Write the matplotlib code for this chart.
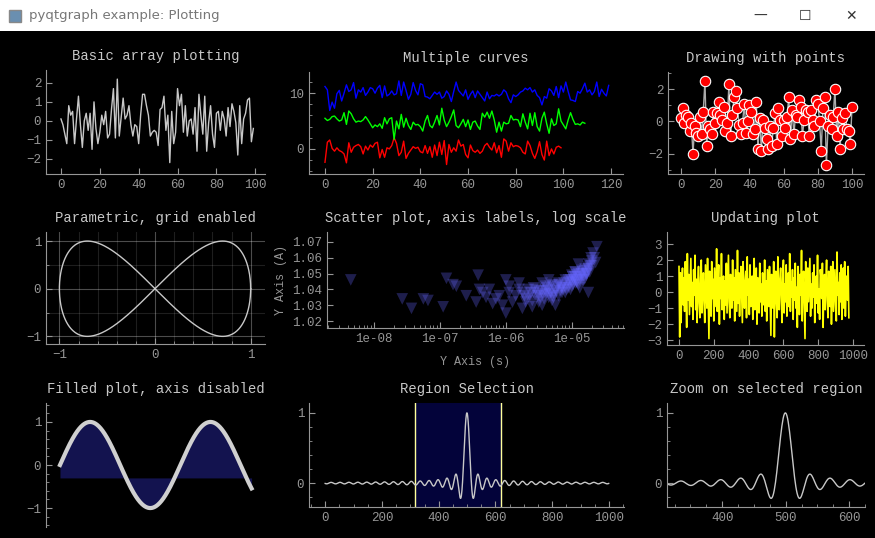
import numpy as np
import matplotlib
matplotlib.use("Agg")
import matplotlib.pyplot as plt
from matplotlib.patches import Rectangle
from matplotlib.ticker import AutoMinorLocator

W, H = 875, 538
FONT = "Liberation Mono"
AXC = "#969696"
TITLEC = "#c8c8c8"

# ---- data ----
basic_y = [0.1, -0.2, -0.7, -1.2, 0.8, 0.3, 0.5, -1.2, 0.1, 1.3, -0.2, -1.4, 0.0, 0.4, -0.5,
           0.4, -1.5, 1.0, -0.4, -1.2, -0.6, 0.3, -0.2, 0.5, -0.9, -0.7, 0.6, 1.7, -0.9, 2.2,
           -0.8, 0.2, 1.2, 0.1, 0.3, 0.8, -0.2, -0.8, -0.2, -0.3, -1.2, 0.3, 1.4, 1.4, 0.8,
           0.3, -0.8, -0.6, -0.5, -0.6, -1.3, 0.6, 0.7, 1.3, -0.5, 0.3, -2.2, 0.5, -1.2, -0.6,
           1.7, 0.8, 1.4, -0.6, 0.8, -0.8, 0.0, 0.1, -0.7, 0.7, -1.6, 1.4, 0.3, -0.7, 1.3,
           -1.6, -0.1, 0.8, -0.7, -1.4, 0.4, 0.5, -0.5, 0.5, 0.1, -0.8, 0.7, -0.3, 0.9, 0.5,
           -0.1, -1.8, 0.8, -1.2, 0.1, 0.4, 1.1, 1.2, -1.1, -0.4]

red_y = [-2.4, 1.2, 1.6, 0.1, -0.4, 0.2, -0.3, -0.5, -0.9, -2.5, 1.1, -0.6, 0.3, 0.6, 0.8,
         0.4, -0.9, 0.5, -0.2, 0.7, 0.3, 1.0, 1.2, -1.6, -0.1, -1.5, 0.2, 0.0, 0.6, 2.0,
         1.0, -1.2, -0.6, 1.4, -1.7, -0.8, -0.2, 0.4, 0.1, 0.3, -0.5, -0.7, 0.6, -0.8, 0.4,
         -1.5, 0.7, -1.2, 1.2, -1.0, 1.5, -2.8, 0.8, -0.6, 0.2, -0.4, 1.6, 0.5, 0.8, -1.0,
         -1.6, 0.7, -0.3, -0.6, -0.2, -0.8, -0.4, 0.6, 1.0, 0.3, -0.2, 1.1, -0.7, 0.6, -1.5,
         1.8, 1.4, -0.4, 1.1, 0.4, 0.6, 0.5, 0.2, -0.6, -0.9, 1.4, 0.6, -0.8, -1.7, -0.5,
         1.3, -1.0, -2.0, 1.4, -1.2, 0.0, -0.9, 0.3, 0.5, 0.2]

green_y = [5.5, 5.1, 5.3, 5.8, 5.9, 5.4, 5.0, 5.2, 6.5, 4.4, 6.8, 6.3, 5.4, 4.8, 5.0,
           4.9, 5.2, 5.8, 5.2, 4.5, 3.8, 4.3, 4.0, 4.5, 3.7, 5.6, 4.5, 5.4, 5.6, 1.7,
           5.0, 3.6, 6.2, 3.9, 5.5, 4.2, 3.5, 4.8, 4.3, 4.4, 4.0, 3.2, 5.0, 6.0, 4.2,
           3.8, 4.8, 6.0, 4.3, 7.3, 5.2, 4.0, 4.8, 5.8, 7.0, 4.2, 3.8, 4.5, 5.3, 4.0,
           5.2, 3.5, 4.8, 5.0, 4.1, 3.5, 6.4, 5.7, 6.6, 5.5, 6.8, 5.2, 3.0, 4.8, 3.2,
           4.8, 4.5, 4.6, 6.0, 5.2, 5.3, 5.2, 4.0, 6.3, 4.8, 3.6, 6.4, 4.2, 6.5, 4.0,
           3.2, 5.5, 6.6, 4.5, 2.8, 5.4, 4.2, 4.5, 7.2, 5.0, 4.3, 3.6, 5.2, 6.5, 5.3,
           4.4, 4.5, 4.3, 4.8, 4.6]

blue_y = [11.2, 10.6, 6.9, 8.4, 7.3, 9.9, 10.5, 8.6, 10.0, 11.5, 10.3, 10.6, 11.9, 9.1, 10.6,
          10.2, 11.0, 9.6, 10.2, 11.0, 10.8, 10.0, 10.9, 11.4, 9.2, 11.3, 9.5, 9.8, 10.4, 9.7,
          9.9, 12.2, 9.6, 12.0, 10.5, 8.9, 9.8, 11.9, 10.5, 9.7, 11.7, 11.5, 9.4, 9.3, 9.0,
          9.6, 10.2, 9.8, 10.2, 9.1, 9.4, 10.4, 9.8, 8.5, 10.3, 12.0, 10.5, 10.0, 9.5, 10.6,
          8.9, 9.8, 10.4, 9.2, 10.4, 9.8, 9.2, 8.6, 10.2, 9.0, 9.6, 9.5, 9.8, 9.5, 9.8,
          10.6, 10.2, 9.0, 8.3, 9.7, 9.4, 9.7, 10.2, 10.4, 10.9, 10.6, 11.0, 10.2, 10.6, 9.6,
          9.2, 7.9, 9.4, 9.1, 10.8, 10.4, 9.6, 11.2, 9.2, 11.3, 10.2, 12.0, 10.3, 8.8, 8.7,
          8.5, 10.3, 10.0, 10.8, 11.8, 10.2, 10.6, 9.7, 10.3, 12.0, 9.4, 10.7, 10.0, 9.5, 11.4]

points_y = [0.2, 0.8, -0.1, 0.4, 0.3, -0.6, -0.1, -2.0, -0.3, -0.7, -0.9, 0.3, -0.8, 0.6, 2.5,
            -1.5, -0.3, -0.5, -0.8, 0.6, -0.1, 0.5, 1.2, 0.4, 0.1, 0.9, -0.6, -0.1, 2.3, -0.9,
            0.4, 1.5, 1.9, 0.8, -0.2, -0.8, -0.1, 1.1, -0.7, -0.0, 1.0, 0.6, -0.8, -0.5, 1.2,
            -1.7, 0.2, -1.8, 0.1, -0.4, -1.1, -1.7, -0.3, -1.5, -0.4, 0.5, -1.4, 0.8, 0.1, -0.9,
            0.1, -0.4, 0.3, 1.5, -1.1, 0.7, -0.8, 0.4, 0.3, 1.3, 0.9, -0.9, 0.1, 0.7, 0.6,
            -0.9, 0.7, 0.1, -0.3, 1.3, 1.1, 0.0, -1.8, 0.8, 1.5, -2.7, -0.3, 0.4, -0.5, 0.3,
            2.0, -0.9, 0.6, -1.7, 0.2, -0.5, 0.5, -0.5, -0.6, -1.4, 0.9]

update_y = [1.6, -2.8, 1.2, -1.9, 0.5, 1.5, -0.8, 0.9, -1.2, 1.9, 0.2, -2.2, 2.4, -0.5, 1.1,
            -1.4, 0.3, 2.1, -0.9, 0.6, -1.7, 1.4, -0.2, 2.3, -1.1, 0.8, -1.9, 0.4, 1.6, -0.7,
            -1.6, 0.9, 2.0, -1.3, 0.1, 1.2, -0.6, -1.9, 1.7, 0.4, -1.0, 2.1, -0.3, -2.9, 1.3,
            0.6, -1.5, 1.9, -0.4, 0.8, -1.8, 1.5, 0.2, -0.9, 2.7, -1.2, 0.5, 1.7, -2.0, 0.9,
            -0.4, 2.4, -1.1, 0.3, 1.0, -1.7, 0.7, -0.8, 1.8, -1.3, 0.4, 2.3, -0.6, -1.6, 1.1,
            0.2, -1.0, 2.0, -0.5, 0.9, -1.8, 1.4, 0.1, -1.2, 2.6, -0.7, 1.2, -1.5, 0.5, 1.6,
            -0.3, -1.9, 1.9, 0.7, -1.0, 0.4, 1.3, -1.6, 2.2, -0.2, 0.8, -1.4, 1.7, -0.9, 0.3,
            1.0, -1.7, 0.6, 2.1, -1.1, -0.4, 1.5, -2.0, 0.9, 0.2, -1.3, 1.8, -0.6, 0.5, -1.5,
            1.2, 0.0, -0.8, 2.0, -1.2, 0.7, -1.8, 1.4, 0.3, -0.9, 1.6, -0.5, -2.7, 1.1, 0.4,
            -1.0, 1.9, -2.8, 0.6, 1.3, -0.7, -1.6, 2.2, 0.1, -1.1, 0.8, 1.5, -0.4, -1.9, 1.0,
            2.0, -1.3, 0.5, -0.6, 1.7, -1.5, 0.2, 1.2, -0.9, 2.4, -1.2, 0.6, -0.3, 1.4, -1.7,
            0.9, -0.5, 1.8, -1.0, 0.3, -2.2, 1.6, 0.7, -1.4, 1.1, -0.2, 2.6, -1.8, 0.4, 1.3,
            -0.8, -2.9, 1.9, 0.1, -1.2, 1.5, -0.6, 0.8, 2.1, -1.5, 0.5, -1.0, 1.2, -0.3, 1.7,
            -1.9, 0.6, 1.0, -0.7, 2.3, -1.3, 0.2, -1.7, 1.4, 0.9, -0.4, 1.8, -2.2, 0.3, 1.1,
            -1.1, 0.7, 2.0, -0.5, -1.6, 1.3, 0.4, -0.9, 1.6, -2.0, 0.8, 1.9, -1.2, 0.1, 1.4,
            -0.8, -1.8, 2.5, -0.2, 0.6, -1.4, 1.2, -0.6, 1.7, -1.7, 0.5, 1.5, -1.0, 1.9, -1.5,
            0.3, 1.0, -0.5, 1.6, -1.6]

scatter_logx = [-8.35, -7.57, -7.43, -7.25, -7.18, -6.95, -6.9, -6.8, -6.75, -6.45, -6.42, -6.35,
                -6.3, -6.25, -6.2, -6.1, -6.05, -6.0, -5.95, -5.9, -5.85, -5.8, -5.75, -5.7, -5.62,
                -5.58, -5.5, -5.45, -5.4, -5.35, -5.3, -5.25, -5.2, -5.15, -5.1, -5.05, -5.0,
                -4.95, -4.9, -4.85, -4.8, -4.75, -4.7, -4.66, -4.62, -6.15, -5.95, -5.7, -5.55,
                -5.4, -5.3, -5.2, -5.1, -5.0, -4.92, -4.85, -4.78, -4.7, -5.5, -5.65, -5.8,
                -5.25, -5.05, -4.9, -4.75, -6.0, -5.35, -5.15, -4.95, -4.82, -4.68, -4.64,
                -6.4, -6.6, -5.75, -5.45, -4.88, -4.72, -5.6, -5.35,
                -5.72, -5.66, -5.58, -5.52, -5.46, -5.42, -5.38, -5.32, -5.28, -5.22, -5.18,
                -5.12, -5.08, -5.02, -4.98, -4.96, -4.93, -4.9, -4.87, -4.84, -4.81, -4.78,
                -4.76, -4.73, -5.6, -5.5, -5.44, -5.36, -5.3, -5.24, -5.16, -5.1, -5.04,
                -5.0, -4.97, -4.94, -4.91, -4.88, -4.86, -4.83, -4.8, -4.77, -4.74, -4.71,
                -5.48, -5.4, -5.33, -5.27, -5.2, -5.14, -5.06, -5.02, -4.99, -4.95]
scatter_y = [1.046, 1.034, 1.028, 1.034, 1.033, 1.029, 1.047, 1.043, 1.042, 1.032, 1.049, 1.038,
             1.035, 1.040, 1.031, 1.036, 1.030, 1.025, 1.038, 1.032, 1.036, 1.040, 1.028, 1.034,
             1.038, 1.041, 1.036, 1.030, 1.042, 1.037, 1.033, 1.040, 1.044, 1.038, 1.046,
             1.041, 1.045, 1.048, 1.043, 1.050, 1.047, 1.053, 1.055, 1.060, 1.067, 1.034,
             1.042, 1.032, 1.040, 1.039, 1.043, 1.036, 1.041, 1.049, 1.044, 1.052, 1.050,
             1.058, 1.032, 1.035, 1.044, 1.030, 1.046, 1.056, 1.038, 1.046, 1.035, 1.042,
             1.051, 1.046, 1.063, 1.057, 1.040, 1.036, 1.038, 1.044, 1.041, 1.055, 1.029, 1.046,
             1.036, 1.040, 1.038, 1.036, 1.039, 1.034, 1.041, 1.038, 1.035, 1.042, 1.039,
             1.044, 1.040, 1.046, 1.043, 1.048, 1.045, 1.050, 1.047, 1.046, 1.052, 1.049,
             1.054, 1.051, 1.033, 1.039, 1.037, 1.040, 1.036, 1.039, 1.041, 1.038, 1.044,
             1.042, 1.046, 1.044, 1.049, 1.046, 1.050, 1.048, 1.053, 1.050, 1.056, 1.060,
             1.035, 1.037, 1.042, 1.037, 1.043, 1.040, 1.045, 1.040, 1.048, 1.051]

# smooth curves from the original example's definitions
param_t = np.linspace(0, 2 * np.pi, 1000)
fill_x = np.linspace(0, 10, 1000)
sinc_u = np.linspace(-100, 100, 1000)
sinc_idx = np.arange(1000)
region = (318, 620)


def make_axes(fig, left, top, right, bottom, xlim, ylim, xaxis=True):
    ax = fig.add_axes([left / W, 1 - bottom / H, (right - left) / W, (bottom - top) / H])
    ax.set_facecolor("black")
    ax.set_xlim(*xlim)
    ax.set_ylim(*ylim)
    for s in ("top", "right"):
        ax.spines[s].set_visible(False)
    for s in ("left", "bottom"):
        ax.spines[s].set_color(AXC)
    ax.tick_params(colors=AXC, labelcolor=AXC, direction="in", length=4, labelsize=9)
    ax.tick_params(which="minor", direction="in", length=2, colors=AXC)
    if not xaxis:
        ax.spines["bottom"].set_visible(False)
        ax.set_xticks([])
    return ax


def title(ax, text):
    ax.set_title(text, color=TITLEC, fontsize=10, fontfamily=FONT, pad=7)


def fix_fonts(ax):
    for lab in ax.get_xticklabels() + ax.get_yticklabels():
        lab.set_fontfamily(FONT)


fig = plt.figure(figsize=(W / 100, H / 100), dpi=100, facecolor="black")

# window title bar
fig.patches.append(Rectangle((0, 1 - 31 / H), 1, 31 / H, transform=fig.transFigure,
                             facecolor="white", edgecolor="none"))
fig.patches.append(Rectangle((9 / W, 1 - 22 / H), 12 / W, 12 / H, transform=fig.transFigure,
                             facecolor="#6a8fb0", edgecolor="#888888"))
fig.text(29 / W, 1 - 16 / H, "pyqtgraph example: Plotting", color="#777777", fontsize=9.5,
         fontfamily="DejaVu Sans", va="center")
for xp, ch in ((760, "\u2014"), (805, "\u2610"), (851, "\u2715")):
    fig.text(xp / W, 1 - 16 / H, ch, color="#333333", fontsize=10, ha="center", va="center",
             fontfamily="DejaVu Sans")

# row 1
ax = make_axes(fig, 46, 70, 265, 174, (-7.7, 105), (-2.8, 2.68))
ax.plot(np.arange(len(basic_y)), basic_y, color="#c8c8c8", lw=1)
ax.set_xticks([0, 20, 40, 60, 80, 100]); ax.set_yticks([-2, -1, 0, 1, 2])
fix_fonts(ax)
title(ax, "Basic array plotting")

ax = make_axes(fig, 309, 72, 623, 174, (-6.7, 125), (-4.5, 13.8))
ax.plot(np.arange(len(red_y)), red_y, color="#ff0000", lw=1)
ax.plot(np.arange(len(green_y)), green_y, color="#00ff00", lw=1)
ax.plot(np.arange(len(blue_y)), blue_y, color="#0000ff", lw=1)
ax.set_xticks([0, 20, 40, 60, 80, 100, 120]); ax.set_yticks([0, 10])
ax.yaxis.set_minor_locator(AutoMinorLocator(5))
fix_fonts(ax)
title(ax, "Multiple curves")

ax = make_axes(fig, 668, 72, 864, 174, (-7.6, 107), (-3.25, 3.05))
ax.plot(np.arange(len(points_y)), points_y, color="#aaaaaa", lw=1, marker="o", ms=7.5,
        mfc="#ff0000", mec="white", mew=0.8)
ax.set_xticks([0, 20, 40, 60, 80, 100]); ax.set_yticks([-2, 0, 2])
ax.yaxis.set_minor_locator(AutoMinorLocator(2))
fix_fonts(ax)
title(ax, "Drawing with points")

# row 2
ax = make_axes(fig, 46, 232, 265, 344, (-1.14, 1.15), (-1.16, 1.19))
ax.plot(np.cos(param_t), np.sin(2 * param_t), color="#c8c8c8", lw=1)
ax.set_xticks([-1, 0, 1]); ax.set_yticks([-1, 0, 1])
ax.xaxis.set_minor_locator(AutoMinorLocator(5)); ax.yaxis.set_minor_locator(AutoMinorLocator(2))
ax.grid(True, which="both", color="#ffffff", alpha=0.12, lw=0.8)
ax.grid(True, which="major", color="#ffffff", alpha=0.3, lw=0.8)
fix_fonts(ax)
title(ax, "Parametric, grid enabled")

ax = make_axes(fig, 327, 232, 624, 328, (10 ** -8.71, 10 ** -4.21), (1.0156, 1.0763))
ax.set_xscale("log")
ax.scatter(10 ** np.array(scatter_logx), scatter_y, marker="v", s=70, color=(0.4, 0.4, 1.0),
           alpha=0.3, edgecolors="none")
ax.set_xlim(10 ** -8.71, 10 ** -4.21)
ax.set_xticks([1e-8, 1e-7, 1e-6, 1e-5])
ax.set_xticklabels(["1e-08", "1e-07", "1e-06", "1e-05"])
ax.set_yticks([1.02, 1.03, 1.04, 1.05, 1.06, 1.07])
ax.tick_params(which="minor", direction="in", length=2, colors=AXC)
ax.tick_params(colors=AXC, labelcolor=AXC, direction="in", length=4, labelsize=9)
ax.set_xlabel("Y Axis (s)", color=AXC, fontsize=8.5, fontfamily=FONT, labelpad=8)
ax.set_ylabel("Y Axis (A)", color=AXC, fontsize=8.5, fontfamily=FONT, labelpad=4)
fix_fonts(ax)
title(ax, "Scatter plot, axis labels, log scale")

ax = make_axes(fig, 667, 232, 864, 345, (-69, 1063), (-3.3, 3.75))
ax.plot(np.arange(len(update_y)) * 4, update_y, color="#ffff00", lw=1.2)
ax.set_xticks([0, 200, 400, 600, 800, 1000]); ax.set_yticks([-3, -2, -1, 0, 1, 2, 3])
fix_fonts(ax)
title(ax, "Updating plot")

# row 3
ax = make_axes(fig, 46, 403, 265, 527, (-0.73, 10.7), (-1.44, 1.44), xaxis=False)
ax.fill_between(fill_x, np.sin(fill_x), -0.3, color=(50 / 255, 50 / 255, 200 / 255), alpha=0.4,
                lw=0)
ax.plot(fill_x, np.sin(fill_x), color="#d0d0d0", lw=3)
ax.set_yticks([-1, 0, 1]); ax.yaxis.set_minor_locator(AutoMinorLocator(5))
fix_fonts(ax)
title(ax, "Filled plot, axis disabled")

sinc_y = np.sin(sinc_u) / sinc_u
ax = make_axes(fig, 309, 403, 624, 507, (-57, 1053), (-0.34, 1.14))
ax.axvspan(region[0], region[1], color="#03033a", zorder=0)
ax.axvline(region[0], color="#ffff99", lw=1)
ax.axvline(region[1], color="#ffff99", lw=1)
ax.plot(sinc_idx, sinc_y, color="#c8c8c8", lw=1)
ax.set_xticks([0, 200, 400, 600, 800, 1000]); ax.set_yticks([0, 1])
ax.xaxis.set_minor_locator(AutoMinorLocator(4)); ax.yaxis.set_minor_locator(AutoMinorLocator(5))
fix_fonts(ax)
title(ax, "Region Selection")

ax = make_axes(fig, 667, 403, 865, 507, (313, 625), (-0.34, 1.14))
ax.plot(sinc_idx, sinc_y, color="#c8c8c8", lw=1)
ax.set_xlim(313, 625)
ax.set_xticks([400, 500, 600]); ax.set_yticks([0, 1])
ax.xaxis.set_minor_locator(AutoMinorLocator(4)); ax.yaxis.set_minor_locator(AutoMinorLocator(5))
fix_fonts(ax)
title(ax, "Zoom on selected region")

fig.savefig("out.png", dpi=100, facecolor="black")
